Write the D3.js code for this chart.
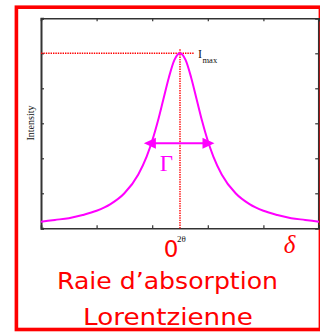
<!DOCTYPE html>
<html>
<head>
<meta charset="utf-8">
<script src="https://cdn.jsdelivr.net/npm/d3@7"></script>
<style>
  body { margin: 0; background: white; }
  svg { display: block; }
</style>
</head>
<body>
<div id="chart"></div>
<script>
const w = 320;
const h = 333;

// detuning positions (axis units, 0..5) and intensity
const xVals = [0, 0.25, 0.5, 0.75, 1.0, 1.25, 1.5, 1.75, 1.9, 2.0, 2.1, 2.2, 2.3, 2.4, 2.5,
               2.6, 2.7, 2.8, 2.9, 3.0, 3.1, 3.25, 3.5, 3.75, 4.0, 4.25, 4.5, 4.75, 5.0];
const yVals = [0.19, 0.24, 0.29, 0.38, 0.5, 0.69, 1.0, 1.54, 2.05, 2.5, 3.05, 3.68, 4.31, 4.81, 5.0,
               4.81, 4.31, 3.68, 3.05, 2.5, 2.05, 1.54, 1.0, 0.69, 0.5, 0.38, 0.29, 0.24, 0.19];
const xTicks = [0, 1, 2, 3, 4, 5];
const yTicks = [0, 1, 2, 3, 4, 5, 6];
const peakX = 2.5;
const peakY = 5;
const gammaY = 2.43;
const gammaFrom = 1.85;
const gammaTo = 3.12;

const svg = d3.select('#chart')
              .append('svg')
              .attr('width', w)
              .attr('height', h)
              .style('background-color', 'white');

const xScale = d3.scaleLinear().domain([0, 5]).range([41, 319]);
const yScale = d3.scaleLinear().domain([0, 6]).range([228.3, 18.3]);

// red frame
svg.append('rect')
   .attr('x', 16.4).attr('y', 7.2)
   .attr('width', 304).attr('height', 322.3)
   .attr('fill', 'none')
   .attr('stroke', '#ff0000')
   .attr('stroke-width', 3.6);

// axes, ticks pointing inward on all four sides
const axisCol = '#333';
const axBottom = svg.append('g').attr('transform', `translate(0, ${yScale(0)})`)
   .call(d3.axisTop(xScale).tickValues(xTicks).tickSize(3).tickFormat(''));
const axTop = svg.append('g').attr('transform', `translate(0, ${yScale(6)})`)
   .call(d3.axisBottom(xScale).tickValues(xTicks).tickSize(3).tickFormat(''));
const axLeft = svg.append('g').attr('transform', `translate(${xScale(0)}, 0)`)
   .call(d3.axisRight(yScale).tickValues(yTicks).tickSize(3).tickFormat(''));
const axRight = svg.append('g').attr('transform', `translate(${xScale(5) - 0.8}, 0)`)
   .call(d3.axisLeft(yScale).tickValues(yTicks).tickSize(3).tickFormat(''));
[axBottom, axTop, axLeft, axRight].forEach(g => {
   g.select('.domain').attr('stroke', axisCol).attr('stroke-width', 1.5);
   g.selectAll('.tick line').attr('stroke', axisCol).attr('stroke-width', 1.2);
});
axLeft.select('.domain').attr('stroke-width', 2);

// red dotted guides
svg.append('line')
   .attr('x1', xScale(0)).attr('x2', xScale(peakX) + 14)
   .attr('y1', yScale(peakY)).attr('y2', yScale(peakY))
   .attr('stroke', '#ff0000').attr('stroke-width', 1.4)
   .attr('stroke-dasharray', '1.4,1');
svg.append('line')
   .attr('x1', xScale(peakX)).attr('x2', xScale(peakX))
   .attr('y1', yScale(peakY) - 4).attr('y2', yScale(0))
   .attr('stroke', '#ff0000').attr('stroke-width', 1.4)
   .attr('stroke-dasharray', '1.4,1');

// Lorentzian line
const data = xVals.map((x, i) => ({x: x, y: yVals[i]}));
const line = d3.line()
   .x(d => xScale(d.x))
   .y(d => yScale(d.y))
   .curve(d3.curveMonotoneX);
svg.append('path')
   .datum(data)
   .attr('d', line)
   .attr('fill', 'none')
   .attr('stroke', '#ff00ff')
   .attr('stroke-width', 2);

// width arrow
const mag = '#ff00ff';
const ay = yScale(gammaY);
const ax1 = xScale(gammaFrom);
const ax2 = xScale(gammaTo);
svg.append('line')
   .attr('x1', ax1 + 8).attr('x2', ax2 - 8)
   .attr('y1', ay).attr('y2', ay)
   .attr('stroke', mag).attr('stroke-width', 1.8);
svg.append('path')
   .attr('d', `M${ax1},${ay} L${ax1 + 12},${ay - 5.5} L${ax1 + 12},${ay + 5.5} Z`)
   .attr('fill', mag);
svg.append('path')
   .attr('d', `M${ax2},${ay} L${ax2 - 12},${ay - 5.5} L${ax2 - 12},${ay + 5.5} Z`)
   .attr('fill', mag);

const serif = '"Liberation Serif", "DejaVu Serif", serif';
svg.append('text')
   .attr('x', 166.5).attr('y', 170.5)
   .attr('text-anchor', 'middle')
   .attr('font-family', serif)
   .attr('font-size', '23px')
   .attr('fill', mag)
   .text('Γ');

// labels
svg.append('text')
   .attr('transform', 'translate(34, 123) rotate(-90)')
   .attr('text-anchor', 'middle')
   .attr('font-family', serif)
   .attr('font-size', '10px')
   .attr('fill', '#111')
   .text('Intensity');

const imax = svg.append('text')
   .attr('x', 198).attr('y', 57.5)
   .attr('font-family', serif)
   .attr('font-size', '12px')
   .attr('fill', '#111');
imax.append('tspan').text('I');
imax.append('tspan').attr('dx', 0.5).attr('dy', 5.5).attr('font-size', '8.5px').text('max');

svg.append('text')
   .attr('x', 171).attr('y', 256.5)
   .attr('text-anchor', 'middle')
   .attr('font-family', '"DejaVu Sans", sans-serif')
   .attr('font-size', '23px')
   .attr('fill', '#ff0000')
   .text('0');
svg.append('text')
   .attr('x', 177).attr('y', 241.5)
   .attr('font-family', serif)
   .attr('font-size', '9px')
   .attr('fill', '#111')
   .text('2θ');
svg.append('text')
   .attr('x', 289.5).attr('y', 253.3)
   .attr('text-anchor', 'middle')
   .attr('font-family', serif)
   .attr('font-style', 'italic')
   .attr('font-size', '25px')
   .attr('fill', '#ff0000')
   .text('δ');

svg.append('text')
   .attr('x', 167.5).attr('y', 288.5)
   .attr('text-anchor', 'middle')
   .attr('font-family', '"DejaVu Sans", sans-serif')
   .attr('font-size', '23px')
   .attr('textLength', 221)
   .attr('lengthAdjust', 'spacingAndGlyphs')
   .attr('fill', '#ff0000')
   .text('Raie d’absorption');
svg.append('text')
   .attr('x', 168).attr('y', 324.5)
   .attr('text-anchor', 'middle')
   .attr('font-family', '"DejaVu Sans", sans-serif')
   .attr('font-size', '23px')
   .attr('textLength', 170)
   .attr('lengthAdjust', 'spacingAndGlyphs')
   .attr('fill', '#ff0000')
   .text('Lorentzienne');
</script>
</body>
</html>
